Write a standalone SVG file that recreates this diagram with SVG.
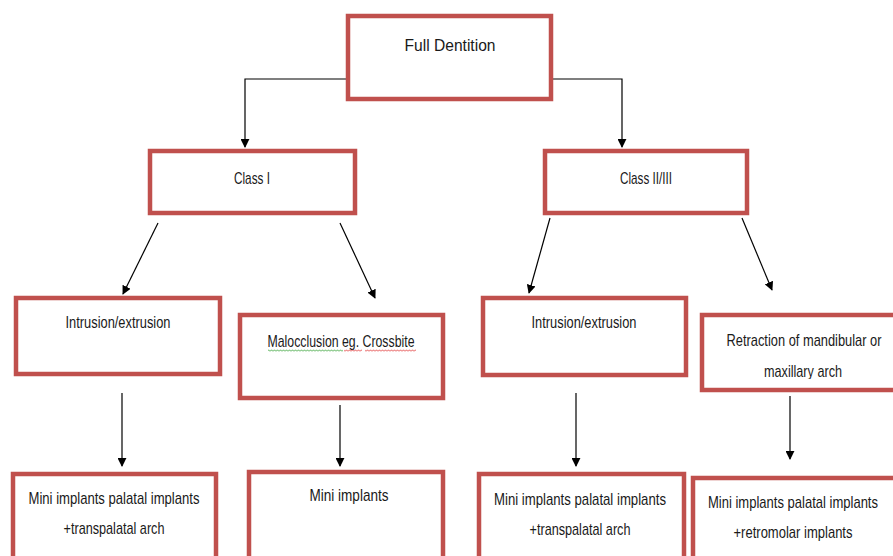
<svg xmlns="http://www.w3.org/2000/svg" width="893" height="556" viewBox="0 0 893 556">
<style>
.box{fill:#fff;stroke:#C0504D;stroke-width:4.5}
.t{font-family:"Liberation Sans",Arial,sans-serif;font-size:17px;fill:#1a1a1a;text-anchor:middle}
.c{fill:none;stroke:#000;stroke-width:1.2}
</style>
<defs>
<marker id="ah" viewBox="0 0 10 10" refX="9" refY="5" markerWidth="9" markerHeight="9" markerUnits="userSpaceOnUse" orient="auto"><path d="M0,0L10,5L0,10z" fill="#000"/></marker>
<pattern id="wg" patternUnits="userSpaceOnUse" x="0" y="349" width="3" height="3"><path d="M0,2.5L1.5,0.8L3,2.5" fill="none" stroke="#2e9e2e" stroke-width="0.8"/></pattern>
<pattern id="wr" patternUnits="userSpaceOnUse" x="0" y="349" width="3" height="3"><path d="M0,2.5L1.5,0.8L3,2.5" fill="none" stroke="#e03030" stroke-width="0.8"/></pattern>
<clipPath id="clipRet"><rect x="700" y="360" width="193" height="19"/></clipPath>
</defs>
<rect width="893" height="556" fill="#fff"/>
<g id="connectors">
<path class="c" d="M346,79H245V147" marker-end="url(#ah)"/>
<path class="c" d="M553,79H622V147" marker-end="url(#ah)"/>
<path class="c" d="M158,223L123,294" marker-end="url(#ah)"/>
<path class="c" d="M340,223L375,298" marker-end="url(#ah)"/>
<path class="c" d="M550,218L529,293" marker-end="url(#ah)"/>
<path class="c" d="M742,218L772,290" marker-end="url(#ah)"/>
<path class="c" d="M122,393V466" marker-end="url(#ah)"/>
<path class="c" d="M340,405V466" marker-end="url(#ah)"/>
<path class="c" d="M576,393V466" marker-end="url(#ah)"/>
<path class="c" d="M790,396V459" marker-end="url(#ah)"/>
</g>
<g id="full-dentition"><rect class="box" x="348" y="16" width="203" height="83"/><text class="t" x="450" y="51" textLength="91" lengthAdjust="spacingAndGlyphs">Full Dentition</text></g>
<g id="class-i"><rect class="box" x="150" y="151" width="205" height="62"/><text class="t" x="252" y="184" textLength="36" lengthAdjust="spacingAndGlyphs">Class I</text></g>
<g id="class-ii-iii"><rect class="box" x="545" y="151" width="202" height="62"/><text class="t" x="646" y="184" textLength="52" lengthAdjust="spacingAndGlyphs">Class II/III</text></g>
<g id="intrusion-left"><rect class="box" x="16" y="298" width="204" height="76"/><text class="t" x="118" y="328" textLength="105" lengthAdjust="spacingAndGlyphs">Intrusion/extrusion</text></g>
<g id="malocclusion"><rect class="box" x="240" y="315" width="203" height="83"/><text class="t" x="341" y="347" textLength="147" lengthAdjust="spacingAndGlyphs">Malocclusion eg. Crossbite</text>
<rect x="268" y="349" width="75" height="3" fill="url(#wg)"/>
<rect x="344" y="349" width="18" height="3" fill="url(#wr)"/>
<rect x="365" y="349" width="51" height="3" fill="url(#wr)"/>
</g>
<g id="intrusion-right"><rect class="box" x="483" y="298" width="203" height="77"/><text class="t" x="584" y="328" textLength="105" lengthAdjust="spacingAndGlyphs">Intrusion/extrusion</text></g>
<g id="retraction"><rect class="box" x="702" y="315" width="195" height="75"/><text class="t" x="804" y="346" textLength="155" lengthAdjust="spacingAndGlyphs">Retraction of mandibular or</text><text class="t" x="803" y="377" textLength="78" lengthAdjust="spacingAndGlyphs" clip-path="url(#clipRet)">maxillary arch</text></g>
<g id="mini-left"><rect class="box" x="13" y="474" width="203" height="90"/><text class="t" x="114" y="504" textLength="171" lengthAdjust="spacingAndGlyphs">Mini implants palatal implants</text><text class="t" x="114" y="534" textLength="101" lengthAdjust="spacingAndGlyphs">+transpalatal arch</text></g>
<g id="mini-only"><rect class="box" x="249" y="472" width="194" height="92"/><text class="t" x="349" y="501" textLength="79" lengthAdjust="spacingAndGlyphs">Mini implants</text></g>
<g id="mini-right"><rect class="box" x="479" y="474" width="205" height="90"/><text class="t" x="580" y="505" textLength="172" lengthAdjust="spacingAndGlyphs">Mini implants palatal implants</text><text class="t" x="580" y="535" textLength="101" lengthAdjust="spacingAndGlyphs">+transpalatal arch</text></g>
<g id="mini-retromolar"><rect class="box" x="693" y="478" width="204" height="86"/><text class="t" x="793" y="508" textLength="170" lengthAdjust="spacingAndGlyphs">Mini implants palatal implants</text><text class="t" x="793" y="538" textLength="119" lengthAdjust="spacingAndGlyphs">+retromolar implants</text></g>
</svg>
